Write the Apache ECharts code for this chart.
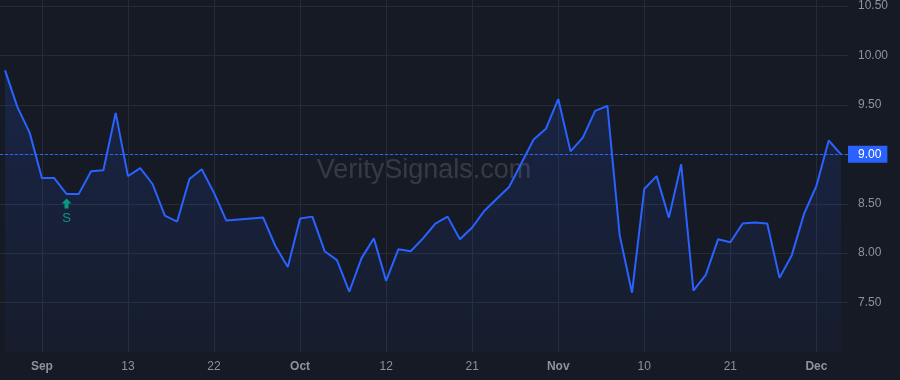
<!DOCTYPE html>
<html><head><meta charset="utf-8">
<script src="https://cdn.jsdelivr.net/npm/echarts@6/dist/echarts.min.js"></script>
<style>html,body{margin:0;padding:0;background:#161a25;}#c{width:900px;height:380px;}</style>
</head><body><div id="c"></div>
<script>
const values = [9.85, 9.48, 9.22, 8.76, 8.76, 8.60, 8.60, 8.83, 8.84, 9.42,
  8.78, 8.86, 8.70, 8.38, 8.32, 8.75, 8.85, 8.61, 8.33, 8.34,
  8.35, 8.36, 8.07, 7.86, 8.35, 8.37, 8.02, 7.93, 7.61, 7.95,
  8.15, 7.72, 8.04, 8.02, 8.15, 8.30, 8.37, 8.14, 8.26, 8.43,
  8.55, 8.67, 8.91, 9.15, 9.26, 9.56, 9.03, 9.17, 9.44, 9.49,
  8.18, 7.60, 8.65, 8.78, 8.36, 8.90, 7.62, 7.78, 8.14, 8.11,
  8.30, 8.31, 8.30, 7.75, 7.98, 8.40, 8.68, 9.14, 9.00];
const tickIndices = [3, 10, 17, 24, 31, 38, 45, 52, 59, 66];
const tickLabels = ['Sep', '13', '22', 'Oct', '12', '21', 'Nov', '10', '21', 'Dec'];
const priceTicks = [7.5, 8.0, 8.5, 9.0, 9.5, 10.0, 10.5];
const signals = [{ index: 5, text: 'S' }];
const watermark = 'VeritySignals.com';

const FONT = '"Liberation Sans", Arial, sans-serif';
const lastValue = values[values.length - 1];
const chart = echarts.init(document.getElementById('c'), null, { renderer: 'canvas' });
chart.setOption({
  backgroundColor: '#161a25',
  animation: false,
  textStyle: { fontFamily: FONT },
  grid: { left: 0, top: 0, right: 52, bottom: 28, containLabel: false },
  graphic: [{
    type: 'text', x: 424, y: 171, z: 0, silent: true,
    style: { text: watermark, font: '27px ' + FONT, fill: 'rgba(255,255,255,0.14)',
      textAlign: 'center', textVerticalAlign: 'middle' }
  }],
  xAxis: {
    type: 'value', min: -0.41, max: 68.57,
    axisLine: { show: false },
    axisTick: { show: false, customValues: tickIndices },
    axisLabel: {
      customValues: tickIndices, margin: 9, color: '#8f929b', fontSize: 12, fontFamily: FONT,
      formatter: function (v) {
        const k = tickIndices.indexOf(Math.round(v));
        const t = k >= 0 ? tickLabels[k] : '';
        return isNaN(+t) ? '{m|' + t + '}' : t;
      },
      rich: { m: { fontWeight: 'bold', color: '#8f929b', fontSize: 12, fontFamily: FONT } }
    },
    splitLine: { show: true, lineStyle: { color: '#262b37', width: 1 } }
  },
  yAxis: {
    type: 'value', position: 'right', min: 7.0, max: 10.562, interval: 0.5,
    axisLine: { show: false }, axisTick: { show: false },
    axisLabel: {
      customValues: priceTicks, margin: 10, color: '#8f929b', fontSize: 12, fontFamily: FONT,
      padding: [3, 0, 0, 0],
      formatter: v => v.toFixed(2)
    },
    splitLine: { show: true, showMinLine: false, showMaxLine: false, lineStyle: { color: '#262b37', width: 1 } }
  },
  series: [{
    type: 'line',
    data: values.map((v, i) => [i, v]),
    showSymbol: false, symbol: 'none',
    lineStyle: { color: '#2962ff', width: 2 },
    itemStyle: { color: '#2962ff' },
    areaStyle: {
      color: new echarts.graphic.LinearGradient(0, 0, 0, 1, [
        { offset: 0, color: 'rgba(41,98,255,0.22)' },
        { offset: 1, color: 'rgba(41,98,255,0.05)' }
      ])
    },
    z: 3,
    markLine: {
      silent: true, symbol: 'none', animation: false,
      lineStyle: { color: '#2962ff', type: [3, 2], width: 1 },
      label: {
        position: 'end', distance: 0, formatter: lastValue.toFixed(2),
        backgroundColor: '#2962ff', color: '#ffffff', fontSize: 12, fontFamily: FONT,
        padding: [3, 6, 2, 10]
      },
      data: [{ yAxis: lastValue }]
    },
    markPoint: {
      silent: true, animation: false,
      symbol: 'path://M5,0 L10,5 L7,5 L7,10 L3,10 L3,5 L0,5 Z',
      symbolSize: [10, 10], symbolOffset: [0, 9.5],
      itemStyle: { color: '#089981' },
      label: { show: true, position: 'bottom', distance: 4, formatter: p => p.data.name,
        color: '#089981', fontSize: 13, fontFamily: FONT },
      data: signals.map(s => ({ coord: [s.index, values[s.index]], name: s.text }))
    }
  }]
});
</script></body></html>
